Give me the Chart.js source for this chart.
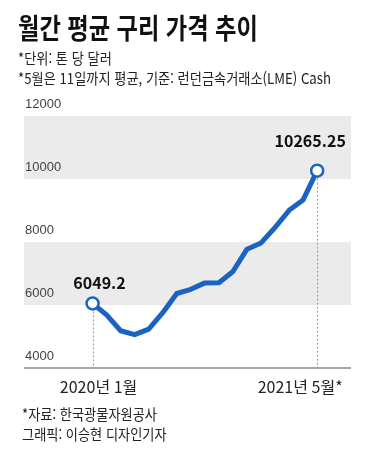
<!DOCTYPE html>
<html lang="ko">
<head>
<meta charset="utf-8">
<script src="https://cdn.jsdelivr.net/npm/chart.js@4/dist/chart.umd.min.js"></script>
<style>
  body { margin: 0; background: #fff; }
  #wrap { position: relative; width: 375px; height: 450px; overflow: hidden; font-family: "Noto Sans CJK KR", sans-serif; color: #111; }
  #wrap canvas { position: absolute; left: 0; top: 0; }
  .txt { position: absolute; white-space: nowrap; line-height: 1; transform-origin: left top; }
  #title { left: 18px; top: 13px; font-size: 28px; font-weight: 700; transform: scaleX(0.83); }
  .note { left: 18px; font-size: 15px; color: #222; transform: scaleX(0.88); }
  #note1 { top: 50px; }
  #note2 { top: 70px; }
  .foot { left: 22px; font-size: 15px; color: #222; transform: scaleX(0.88); }
  #foot1 { top: 406px; }
  #foot2 { top: 426px; }
</style>
</head>
<body>
<div id="wrap">
  <canvas id="chart" width="375" height="450"></canvas>
  <div class="txt" id="title">월간 평균 구리 가격 추이</div>
  <div class="txt note" id="note1">*단위: 톤 당 달러</div>
  <div class="txt note" id="note2">*5월은 11일까지 평균, 기준: 런던금속거래소(LME) Cash</div>
  <div class="txt foot" id="foot1">*자료: 한국광물자원공사</div>
  <div class="txt foot" id="foot2">그래픽: 이승현 디자인기자</div>
</div>
<script>
// monthly average copper price, USD per ton
const months = ['2020-01', '2020-02', '2020-03', '2020-04', '2020-05', '2020-06', '2020-07', '2020-08', '2020-09',
                '2020-10', '2020-11', '2020-12', '2021-01', '2021-02', '2021-03', '2021-04', '2021-05'];
const prices = [6049.2, 5688, 5183, 5058, 5236, 5755, 6365, 6497, 6702,
                6706, 7064, 7772, 7971, 8460, 9005, 9336, 10265.25];
const yTicks = [4000, 6000, 8000, 10000, 12000];
const bands = [[6000, 8000], [10000, 12000]];
const endLabels = ['2020년 1월', '2021년 5월*'];

const blue = '#1b63c2';
const last = prices.length - 1;

// gray bands, baseline, dotted drop lines and the text labels
const decor = {
    id: 'decor',
    beforeDraw(chart) {
        const {ctx, chartArea: a, scales: {y}} = chart;
        ctx.save();
        ctx.fillStyle = '#ebebeb';
        bands.forEach(([lo, hi]) => {
            const top = y.getPixelForValue(hi);
            const bot = y.getPixelForValue(lo);
            ctx.fillRect(a.left, top, a.right - a.left, bot - top);
        });
        ctx.restore();
    },
    beforeDatasetsDraw(chart) {
        const {ctx, chartArea: a, scales: {x, y}} = chart;
        ctx.save();
        ctx.strokeStyle = '#8a8a8a';
        ctx.lineWidth = 1.5;
        ctx.beginPath();
        ctx.moveTo(a.left, a.bottom);
        ctx.lineTo(a.right, a.bottom);
        ctx.stroke();

        ctx.strokeStyle = '#999';
        ctx.lineWidth = 1;
        ctx.setLineDash([2, 2]);
        [0, last].forEach(i => {
            const px = Math.round(x.getPixelForValue(i)) + 0.5;
            ctx.beginPath();
            ctx.moveTo(px, y.getPixelForValue(prices[i]));
            ctx.lineTo(px, a.bottom);
            ctx.stroke();
        });
        ctx.restore();
    },
    afterDraw(chart) {
        const {ctx, chartArea: a, scales: {x, y}} = chart;
        ctx.save();
        ctx.fillStyle = '#111';
        ctx.textAlign = 'center';
        ctx.textBaseline = 'middle';
        ctx.font = 'bold 16px "Noto Sans CJK KR"';
        ctx.fillText(String(prices[0]), x.getPixelForValue(0) + 7, y.getPixelForValue(prices[0]) - 21);
        ctx.fillText(String(prices[last]), x.getPixelForValue(last) - 7, y.getPixelForValue(prices[last]) - 30);

        ctx.font = '16px "Noto Sans CJK KR"';
        ctx.fillStyle = '#222';
        ctx.fillText(endLabels[0], x.getPixelForValue(0) + 6, a.bottom + 19);
        ctx.fillText(endLabels[1], x.getPixelForValue(last) - 17, a.bottom + 19);
        ctx.restore();
    }
};

const chart = new Chart(document.getElementById('chart').getContext('2d'), {
    type: 'line',
    data: {
        labels: months,
        datasets: [{
            data: prices.map((v, i) => ({x: i, y: v})),
            borderColor: blue,
            borderWidth: 5,
            borderJoinStyle: 'round',
            borderCapStyle: 'round',
            tension: 0,
            pointRadius: ctx => (ctx.dataIndex === 0 || ctx.dataIndex === last) ? 6 : 0,
            pointBackgroundColor: '#fff',
            pointBorderColor: blue,
            pointBorderWidth: 2.5
        }]
    },
    options: {
        responsive: false,
        animation: false,
        events: [],
        layout: { padding: { left: 22, right: 24, top: 116, bottom: 82 } },
        plugins: { legend: { display: false }, tooltip: { enabled: false } },
        scales: {
            x: { type: 'linear', min: -4.885, max: 18.41, display: false },
            y: {
                min: 4000,
                max: 12000,
                afterBuildTicks: scale => { scale.ticks = yTicks.map(v => ({value: v})); },
                ticks: {
                    mirror: true,
                    padding: 1,
                    labelOffset: -12,
                    color: '#444',
                    font: { family: 'Liberation Sans', size: 13 },
                    callback: v => String(v)
                },
                grid: { display: false, drawTicks: false },
                border: { display: false }
            }
        }
    },
    plugins: [decor]
});
</script>
</body>
</html>
